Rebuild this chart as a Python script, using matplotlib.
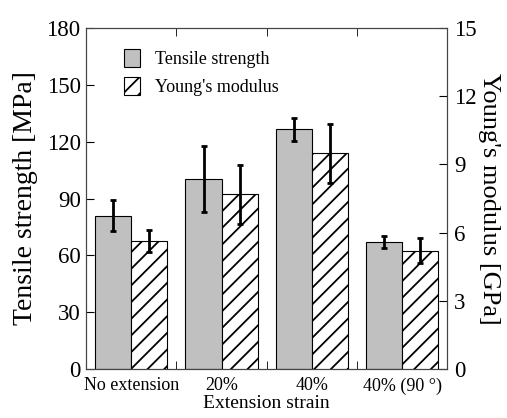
import numpy as np
import matplotlib
matplotlib.use("Agg")
import matplotlib.pyplot as plt

plt.rcParams['font.family'] = ['Liberation Serif', 'DejaVu Serif']
plt.rcParams['hatch.linewidth'] = 1.3

# data
groups = ["No extension", "20%", "40%", "40% (90 °)"]
tensile = [81.0, 100.3, 126.5, 67.2]          # MPa
tensile_err = [8.0, 17.6, 6.0, 3.3]
young = [5.64, 7.68, 9.49, 5.20]              # GPa
young_err = [0.48, 1.30, 1.30, 0.55]

x = np.arange(len(groups))
w = 0.4

fig = plt.figure(figsize=(5.07, 4.18), dpi=100)
ax = fig.add_axes([0.170, 0.117, 0.712, 0.816])
ax2 = ax.twinx()

ax.bar(x - w / 2, tensile, w, color="#c0c0c0", edgecolor="black", linewidth=0.8,
       label="Tensile strength", zorder=2)
ax.errorbar(x - w / 2, tensile, yerr=tensile_err, fmt="none", ecolor="black",
            elinewidth=2, capsize=2.5, capthick=2, zorder=3)

ax2.bar(x + w / 2, young, w, color="white", edgecolor="black", linewidth=0.8,
        hatch="//", label="Young's modulus", zorder=2)
ax2.errorbar(x + w / 2, young, yerr=young_err, fmt="none", ecolor="black",
             elinewidth=2, capsize=2.5, capthick=2, zorder=3)

ax.set_xlim(-0.5, 3.5)
ax.set_ylim(0, 180)
ax2.set_ylim(0, 15)
ax.set_yticks(np.arange(0, 181, 30))
ax2.set_yticks(np.arange(0, 16, 3))

ax.set_xticks(x)
ax.set_xticklabels(groups, fontsize=13)
ax.set_xticks([0.5, 1.5, 2.5], minor=True)
ax.tick_params(axis="x", which="major", length=0, pad=6)
ax.tick_params(axis="x", which="minor", direction="in", top=True, bottom=True, length=6)
ax.tick_params(axis="y", direction="in", labelsize=16.5, length=6, pad=4, right=False)
ax2.tick_params(axis="y", direction="in", labelsize=16.5, length=6, pad=5)

ax.set_xlabel("Extension strain", fontsize=14, labelpad=0)
ax.set_ylabel("Tensile strength [MPa]", fontsize=20, labelpad=6)
ax2.set_ylabel("Young's modulus [GPa]", fontsize=19, rotation=-90, labelpad=1, va="bottom")

for a in (ax, ax2):
    for s in a.spines.values():
        s.set_color("#444444")

h1, l1 = ax.get_legend_handles_labels()
h2, l2 = ax2.get_legend_handles_labels()
ax2.legend(h1 + h2, l1 + l2, loc="upper left", frameon=False, fontsize=13,
           handlelength=0.9, handleheight=1.1, handletextpad=0.8,
           bbox_to_anchor=(0.06, 0.985))

fig.savefig("out.png", dpi=100)
